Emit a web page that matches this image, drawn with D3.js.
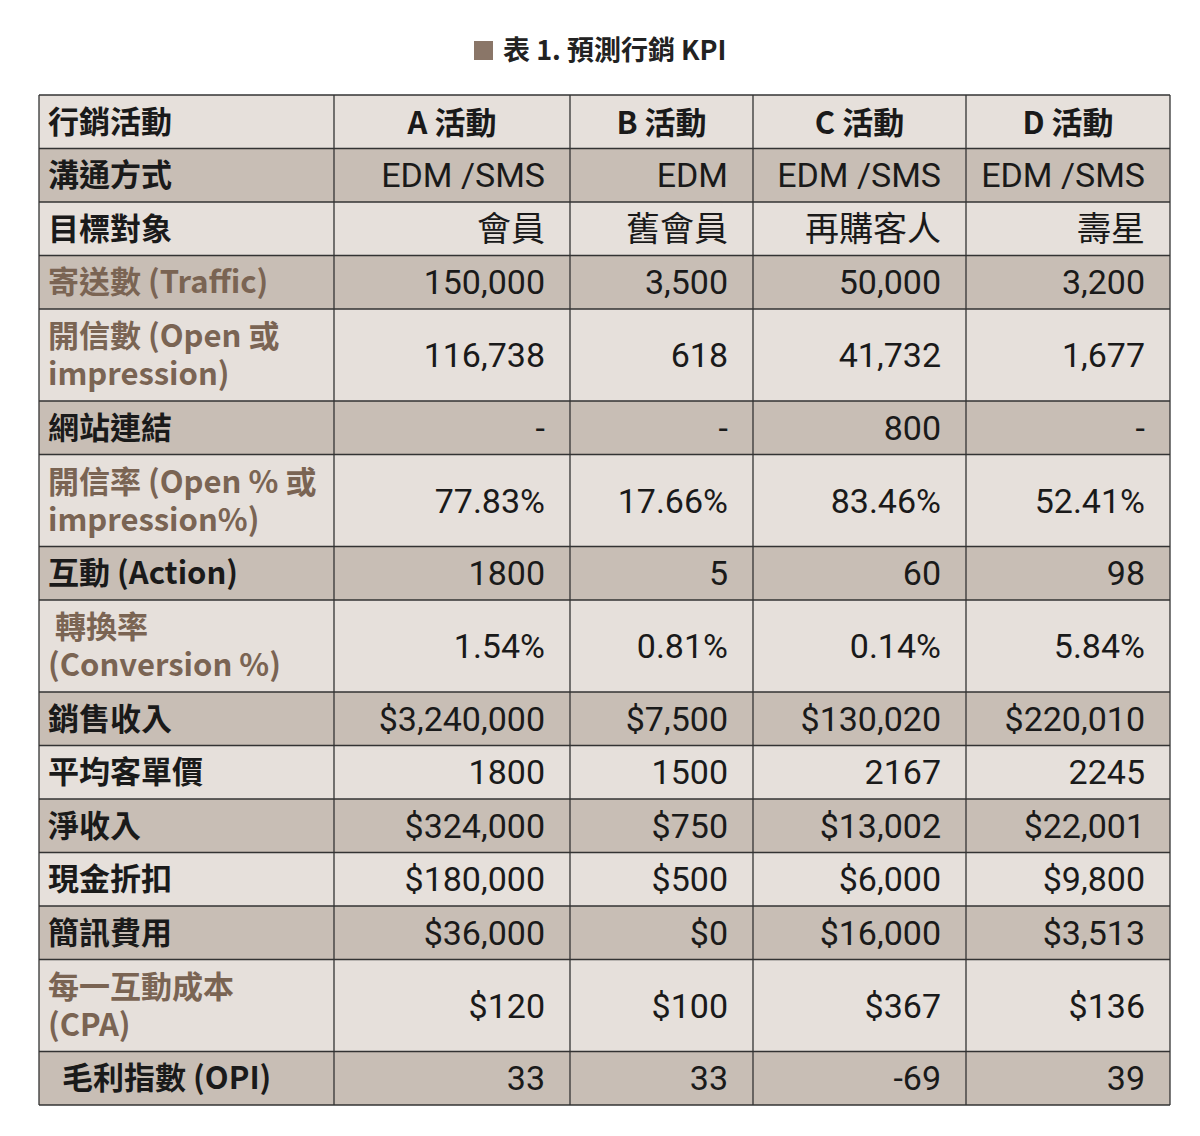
<!DOCTYPE html>
<html><head><meta charset="utf-8">
<script src="https://cdn.jsdelivr.net/npm/d3@7"></script>
<style>body{margin:0;background:#fff}</style>
</head><body>
<script>
// table content
var title = '表 1. 預測行銷 KPI';
var columns = ['A 活動', 'B 活動', 'C 活動', 'D 活動'];
var rowLabels = [
  ['溝通方式'], ['目標對象'], ['寄送數 (Traffic)'], ['開信數 (Open 或', 'impression)'],
  ['網站連結'], ['開信率 (Open % 或', 'impression%)'], ['互動 (Action)'],
  [' 轉換率', '(Conversion %)'], ['銷售收入'], ['平均客單價'], ['淨收入'], ['現金折扣'],
  ['簡訊費用'], ['每一互動成本', '(CPA)'], ['  毛利指數 (OPI)']
];
var brownRows = ['寄送數 (Traffic)', '開信數 (Open 或', '開信率 (Open % 或', ' 轉換率', '每一互動成本'];
var colA = ['EDM /SMS', '會員', '150,000', '116,738', '-', '77.83%', '1800', '1.54%', '$3,240,000', '1800', '$324,000', '$180,000', '$36,000', '$120', '33'];
var colB = ['EDM', '舊會員', '3,500', '618', '-', '17.66%', '5', '0.81%', '$7,500', '1500', '$750', '$500', '$0', '$100', '33'];
var colC = ['EDM /SMS', '再購客人', '50,000', '41,732', '800', '83.46%', '60', '0.14%', '$130,020', '2167', '$13,002', '$6,000', '$16,000', '$367', '-69'];
var colD = ['EDM /SMS', '壽星', '3,200', '1,677', '-', '52.41%', '98', '5.84%', '$220,010', '2245', '$22,001', '$9,800', '$3,513', '$136', '39'];
var values = [colA, colB, colC, colD];

var width = 1200, height = 1136;
var left = 39, right = 1170, tableTop = 95;
var colEdges = [left, 334, 570, 753, 966, right];
var oneLine = 53.5, twoLine = 92;
var light = '#e6e0db', dark = '#c8beb5', brown = '#7a6453';
var cjk = '"Noto Sans CJK TC", sans-serif';
var num = '"Liberation Sans Narrow", "Roboto", sans-serif';

var svg = d3.select('body').append('svg')
  .attr('width', width).attr('height', height);

// title with small square
svg.append('rect').attr('x', 474).attr('y', 41).attr('width', 19).attr('height', 19).attr('fill', '#8a7668');
svg.append('text').attr('x', 503).attr('y', 60)
  .style('font-family', cjk).style('font-weight', 700).style('font-size', '27px')
  .attr('fill', '#222').text(title);

// row positions
var rows = [{label: ['行銷活動'], cells: columns, header: true}];
rowLabels.forEach(function(l, i) {
  rows.push({label: l, cells: values.map(function(c) { return c[i]; })});
});
var y = tableTop;
rows.forEach(function(r, i) {
  r.y = y; r.h = r.label.length > 1 ? twoLine : oneLine; r.i = i;
  y += r.h;
});

var g = svg.selectAll('g.row').data(rows).enter().append('g').attr('class', 'row');

g.append('rect')
  .attr('x', left).attr('y', function(d) { return d.y; })
  .attr('width', right - left).attr('height', function(d) { return d.h; })
  .attr('fill', function(d) { return d.i % 2 ? dark : light; });

// label column
g.each(function(d) {
  var isBrown = brownRows.indexOf(d.label[0]) >= 0;
  var t = d3.select(this).append('text')
    .style('font-family', cjk).style('font-weight', 700).style('font-size', '31px')
    .style('white-space', 'pre')
    .attr('fill', isBrown ? brown : '#1a1a1a');
  d.label.forEach(function(line, k) {
    var n = d.label.length;
    t.append('tspan').attr('x', 48)
      .attr('y', d.y + d.h / 2 + 11 + (k - (n - 1) / 2) * 38)
      .text(line);
  });
});

// value cells
g.each(function(d) {
  d3.select(this).selectAll('text.v').data(d.cells).enter().append('text')
    .attr('class', 'v')
    .attr('x', function(v, j) { return d.header ? (colEdges[j + 1] + colEdges[j + 2]) / 2 : colEdges[j + 2] - 25; })
    .attr('y', d.y + d.h / 2 + 12)
    .attr('text-anchor', d.header ? 'middle' : 'end')
    .style('font-family', function(v) { return d.header || /[\u4e00-\u9fff]/.test(v) ? cjk : num; })
    .style('font-weight', d.header ? 700 : 400)
    .style('font-size', d.header ? '31px' : '34px')
    .attr('fill', '#1a1a1a')
    .text(function(v) { return v; });
});

// grid lines
svg.selectAll('line.h').data(rows.map(function(r) { return r.y; }).concat([y])).enter()
  .append('line').attr('x1', left).attr('x2', right)
  .attr('y1', function(d) { return d; }).attr('y2', function(d) { return d; })
  .attr('stroke', '#333').attr('stroke-width', 1.3);
svg.selectAll('line.v').data(colEdges).enter()
  .append('line').attr('y1', tableTop).attr('y2', y)
  .attr('x1', function(d) { return d; }).attr('x2', function(d) { return d; })
  .attr('stroke', '#333').attr('stroke-width', 1.3);
</script>
</body></html>
